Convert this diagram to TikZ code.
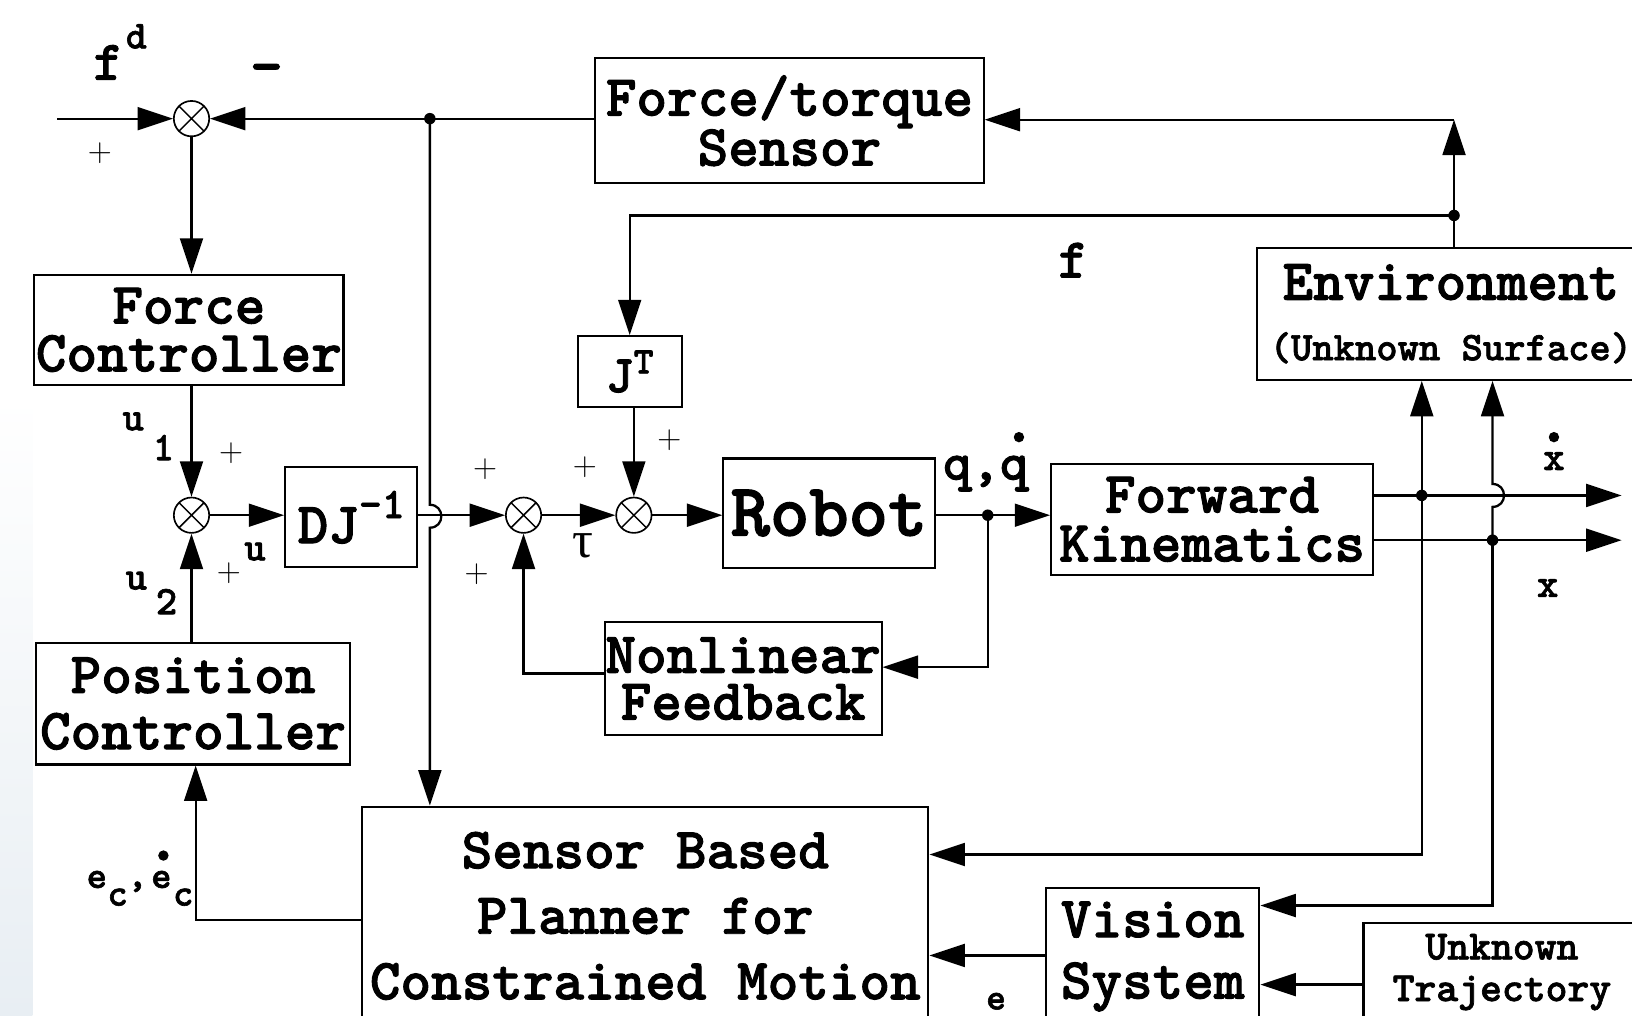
\documentclass[tikz,border=0pt]{standalone}
\usepackage{fontspec}
\newfontfamily\greekf{Liberation Serif}
\newfontfamily\courb{lmmonolt10-bold.otf}[FakeBold=1.6]
\usetikzlibrary{arrows.meta,calc}
\newcommand{\cfont}[2]{\courb\fontsize{#1}{#2}\selectfont}
\begin{document}
\begin{tikzpicture}[x=1pt,y=-1pt,
  blk/.style={draw, line width=2pt, align=center, inner sep=0pt, font=\cfont{56}{46}},
  sumj/.style={circle, draw, line width=1.6pt, minimum size=34pt, inner sep=0pt,
    path picture={\draw[line width=1.4pt] (path picture bounding box.center) +(45:17pt) -- +(225:17pt)
      (path picture bounding box.center) +(135:17pt) -- +(315:17pt);}},
  arr/.style={line width=2.2pt, -{Triangle[length=34pt,width=22pt]}},
  lbl/.style={font=\cfont{39}{39}, inner sep=0pt},
  pl/.style={font=\fontsize{32}{32}\selectfont, inner sep=0pt}
]
\fill[white] (0,0) rectangle (1568,976);
\useasboundingbox (0,0) rectangle (1568,976);
\clip (0,0) rectangle (1568,976);
\shade[top color=white, bottom color={rgb,255:red,232;green,238;blue,243}] (0,380) rectangle (31,976);

% blocks
\node[blk, minimum width=373pt, minimum height=120pt] (fts) at (758.5,116) {Force/torque\\Sensor};
\node[sumj] (s1) at (184,114) {};
\node[blk, minimum width=297pt, minimum height=106pt] (fc) at (181.5,317) {Force\\Controller};
\node[sumj] (s2) at (184,495) {};
\node[blk, minimum width=127pt, minimum height=96pt] (dj) at (337.5,497) {DJ\raisebox{24pt}{\fontsize{42}{42}\selectfont-1}};
\node[blk, font=\cfont{56}{54}, minimum width=301pt, minimum height=117pt] (pc) at (185.5,676) {Position\\Controller};
\node[sumj] (s3) at (503,495) {};
\node[sumj] (s4) at (609,495) {};
\node[blk, font=\cfont{51}{51}, minimum width=100pt, minimum height=68pt] (jt) at (605,357) {J\raisebox{18pt}{\fontsize{36}{36}\selectfont T}};
\node[blk, font=\cfont{72}{72}, minimum width=203pt, minimum height=105pt] (robot) at (796.5,493) {Robot};
\node[blk, font=\cfont{56}{47}, minimum width=309pt, minimum height=107pt] (fk) at (1164.5,499) {Forward\\Kinematics};
\node[blk, font=\cfont{56}{58}, minimum width=372pt, minimum height=127pt] (env) at (1394,301.5) {Environment\\{\fontsize{39}{58}\selectfont(Unknown Surface)}};
\node[blk, font=\cfont{56}{45}, minimum width=266pt, minimum height=109pt] (nf) at (714,652) {Nonlinear\\Feedback};
\node[blk, font=\cfont{56}{63}, minimum width=544pt, minimum height=210pt] (planner) at (620,880) {Sensor Based~\\Planner for~\\Constrained Motion};
\node[blk, font=\cfont{56}{59}, minimum width=205pt, minimum height=132pt] (vis) at (1107.5,919) {Vision\\System};
\node[blk, font=\cfont{40}{40}, minimum width=266pt, minimum height=94pt] (ut) at (1443,934) {Unknown\\Trajectory};

% coordinates
\coordinate (in1) at (55,114);
\coordinate (j1) at (413,114);
\coordinate (j2) at (949,495);
\coordinate (c4) at (949,641);
\coordinate (c3) at (503,647);
\coordinate (j3) at (1397,207);
\coordinate (c1) at (1397,115);
\coordinate (o1) at (1558,476);
\coordinate (o2) at (1558,519);
\coordinate (j4) at (1366,476);
\coordinate (j5) at (1434,519);
\coordinate (c6) at (1366,821);
\coordinate (c7) at (1434,870);
\coordinate (c8) at (1000,918);
\coordinate (c9) at (1300,946);
\coordinate (c5) at (188,884);

% connectors
\draw[arr] (in1) -- (s1.west);
\draw[arr] (fts.west |- s1) -- (s1.east);
\draw[arr] (s1.south) -- (s1.south |- fc.north);
\draw[arr] (fc.south -| s2) -- (s2.north);
\draw[arr] (pc.north -| s2) -- (s2.south);
\draw[arr] (s2.east) -- (dj.west |- s2);
\draw[arr] (dj.east |- s3) -- (s3.west);
\draw[arr] (s3.east) -- (s4.west);
\draw[arr] (jt.south -| s4) -- (s4.north);
\draw[arr] (s4.east) -- (robot.west |- s4);
\draw[arr] (robot.east |- s4) -- (fk.west |- s4);
\draw[arr] (j2) -- (c4) -- (nf.east |- c4);
\draw[arr] (nf.west |- c3) -- (c3) -- (s3.south);
\draw[arr] (env.north -| j3) -- (c1);
\draw[arr] (c1) -- (fts.east |- c1);
\draw[arr] (j3) -- (jt.north |- j3) -- (jt.north);
\draw[arr] (fk.east |- o1) -- (o1);
\draw[arr] (fk.east |- o2) -- (o2);
\draw[arr] (j4) -- (env.south -| j4);
\draw[arr] (j4) -- (c6) -- (planner.east |- c6);
\draw[arr] (j5) -- (1434,487) .. controls (1448.7,487) and (1448.7,465) .. (1434,465) -- (env.south -| j5);
\draw[arr] (j5) -- (c7) -- (vis.east |- c7);
\draw[arr] (vis.west |- c8) -- (planner.east |- c8);
\draw[arr] (ut.west |- c9) -- (vis.east |- c9);
\draw[arr] (planner.west |- c5) -- (c5) -- (pc.south -| c5);
\draw[arr] (j1) -- (413,485) .. controls (427.7,485) and (427.7,507) .. (413,507) -- (planner.north -| j1);

% junction dots
\foreach \p in {j1,j2,j3,j4,j5} \fill (\p) circle (5.5);

% labels
\node[font=\cfont{54}{54}, inner sep=0pt] (lf) at (104,60) {f};
\node[font=\cfont{38}{38}, inner sep=0pt] (lfd) at (131,35) {d};
\node[font=\cfont{60}{60}, inner sep=0pt] (lminus) at (256,72) {–};
\node[pl] (p1) at (96,147) {+};
\node[lbl] (lu1) at (128,405) {u};
\node[lbl] (l1) at (157,430) {1};
\node[pl] (p2) at (222,435) {+};
\node[lbl] (lu) at (245,530) {u};
\node[pl] (p3) at (220,551) {+};
\node[lbl] (lu2) at (131,558) {u};
\node[lbl] (l2) at (160,578) {2};
\node[pl] (p4) at (466,451) {+};
\node[pl] (p5) at (458,552) {+};
\node[pl] (p6) at (562,449) {+};
\node[pl] (p7) at (643,423) {+};
\node[font=\greekf\fontsize{50}{50}\selectfont, inner sep=0pt] (ltau) at (560,524) {τ};
\node[font=\cfont{52}{52}, inner sep=0pt] (lq) at (947,455) {q,q};
\fill (979,420) circle (5);
\node[font=\cfont{54}{54}, inner sep=0pt] (lff) at (1031,250) {f};
\node[lbl] (lxd) at (1493,443) {x};
\fill (1493,420) circle (5);
\node[lbl] (lx) at (1487,565) {x};
\node[font=\cfont{36}{36}, inner sep=0pt] (le) at (957,962) {e};
\node[font=\cfont{37}{37}, inner sep=0pt] (lec1) at (93,845) {e};
\node[font=\cfont{37}{37}, inner sep=0pt] (lec2) at (113,862) {c};
\node[font=\cfont{37}{37}, inner sep=0pt] (lcomma) at (132,852) {,};
\node[font=\cfont{37}{37}, inner sep=0pt] (lec3) at (155,845) {e};
\node[font=\cfont{37}{37}, inner sep=0pt] (lec4) at (176,862) {c};
\fill (157,822) circle (5);
\end{tikzpicture}
\end{document}
